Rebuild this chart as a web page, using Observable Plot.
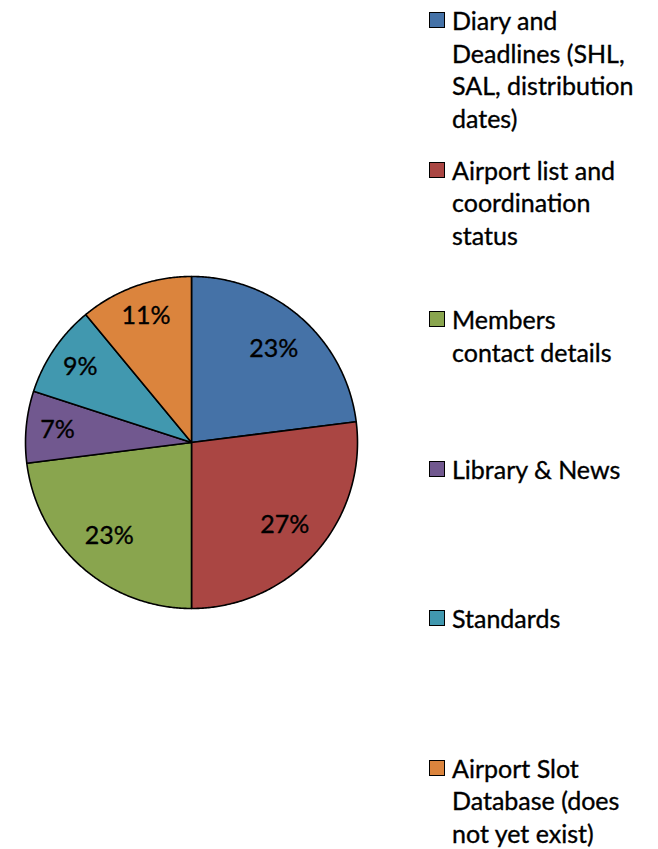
<!DOCTYPE html>
<html>
<head>
<meta charset="utf-8">
<script src="https://cdn.jsdelivr.net/npm/d3@7"></script>
<script src="https://cdn.jsdelivr.net/npm/@observablehq/plot@0.6"></script>
<style>
  html, body { margin: 0; padding: 0; background: #fff; }
  #wrap { position: relative; width: 658px; height: 849px; overflow: hidden; font-family: Lato, "Noto Sans", sans-serif; }
  #chart { position: absolute; left: 0; top: 0; }
  .leg { position: absolute; left: 429px; font-size: 25px; line-height: 32.7px; color: #000; white-space: pre-line; -webkit-text-stroke: 0.35px #000; }
  .leg .sw { position: absolute; left: 0; top: 8px; width: 14px; height: 14px; border: 1px solid #000; box-sizing: content-box; -webkit-text-stroke: 0; }
  .leg .tx { margin-left: 23px; }
</style>
</head>
<body>
<div id="wrap"><div id="chart"></div></div>
<script>
const categories = [
  "Diary and\nDeadlines (SHL,\nSAL, distribution\ndates)",
  "Airport list and\ncoordination\nstatus",
  "Members\ncontact details",
  "Library & News",
  "Standards",
  "Airport Slot\nDatabase (does\nnot yet exist)"
];
const values = [23, 27, 23, 7, 9, 11];
const colors = ["#4572A7", "#AA4643", "#89A54E", "#71588F", "#4198AF", "#DB843D"];

const total = d3.sum(values);
const slices = [];
const labels = [];
let acc = 0;
values.forEach((v, i) => {
  const a0 = acc / total * 2 * Math.PI;
  acc += v;
  const a1 = acc / total * 2 * Math.PI;
  const n = Math.max(2, Math.ceil((a1 - a0) / (Math.PI / 360)));
  slices.push({k: i, x: 0, y: 0});
  for (let j = 0; j <= n; j++) {
    const a = a0 + (a1 - a0) * j / n;
    slices.push({k: i, x: Math.sin(a), y: Math.cos(a)});
  }
  slices.push({k: i, x: 0, y: 0});
  const am = (a0 + a1) / 2;
  // best-fit style: narrow slices put their label a little further out
  const r = v / total < 0.15 ? 0.81 : 0.75;
  labels.push({k: i, x: r * Math.sin(am), y: r * Math.cos(am), t: v + "%"});
});

const chart = Plot.plot({
  width: 658,
  height: 849,
  margin: 0,
  x: {domain: [-1, 1], range: [25, 357], axis: null},
  y: {domain: [-1, 1], range: [608, 276], axis: null},
  color: {domain: d3.range(values.length), range: colors},
  style: {fontFamily: "Lato, 'Noto Sans', sans-serif", background: "transparent"},
  marks: [
    Plot.line(slices, {x: "x", y: "y", z: "k", fill: "k", stroke: "#000", strokeWidth: 1.6, strokeLinejoin: "round", curve: "linear"}),
    Plot.text(labels, {x: "x", y: "y", text: "t", fontSize: 25, fill: "#000", stroke: "#000", strokeWidth: 0.35})
  ]
});
document.getElementById("chart").appendChild(chart);

const wrap = document.getElementById("wrap");
categories.forEach((c, i) => {
  const d = document.createElement("div");
  d.className = "leg";
  d.style.top = (4 + i * 149.5) + "px";
  const sw = document.createElement("div");
  sw.className = "sw";
  sw.style.background = colors[i];
  const tx = document.createElement("div");
  tx.className = "tx";
  tx.textContent = c;
  d.appendChild(sw);
  d.appendChild(tx);
  wrap.appendChild(d);
});
</script>
</body>
</html>
